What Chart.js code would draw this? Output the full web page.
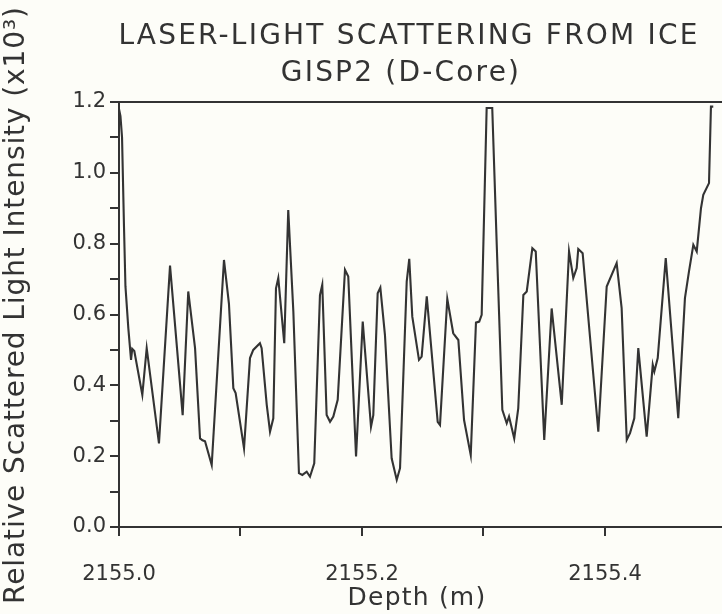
<!DOCTYPE html>
<html>
<head>
<meta charset="utf-8">
<script src="https://cdn.jsdelivr.net/npm/chart.js@4/dist/chart.umd.min.js"></script>
<style>
html,body{margin:0;padding:0;background:#fdfdf8;}
#wrap{width:722px;height:614px;}
</style>
</head>
<body>
<div id="wrap"><canvas id="c" width="722" height="614"></canvas></div>
<script>
// Depth (m) and relative scattered light intensity (x10^3)
const depth = [
2155.0000,2155.0012,2155.0025,2155.0041,2155.0053,2155.0077,2155.0099,2155.0109,2155.0126,2155.0192,
2155.0228,2155.0329,2155.0420,2155.0524,2155.0570,2155.0626,2155.0667,2155.0687,2155.0708,2155.0763,
2155.0864,2155.0905,2155.0941,2155.0960,2155.1029,2155.1078,2155.1105,2155.1160,2155.1174,2155.1216,
2155.1243,2155.1270,2155.1292,2155.1311,2155.1360,2155.1393,2155.1435,2155.1481,2155.1509,2155.1545,
2155.1572,2155.1607,2155.1654,2155.1673,2155.1709,2155.1737,2155.1764,2155.1800,2155.1860,2155.1887,
2155.1951,2155.2006,2155.2074,2155.2093,2155.2129,2155.2151,2155.2189,2155.2244,2155.2286,2155.2313,
2155.2368,2155.2389,2155.2414,2155.2469,2155.2491,2155.2533,2155.2623,2155.2642,2155.2702,2155.2751,
2155.2793,2155.2840,2155.2895,2155.2938,2155.2965,2155.2985,2155.3026,2155.3072,2155.3109,2155.3155,
2155.3191,2155.3210,2155.3253,2155.3286,2155.3328,2155.3356,2155.3402,2155.3430,2155.3500,2155.3561,
2155.3644,2155.3704,2155.3739,2155.3767,2155.3780,2155.3816,2155.3945,2155.4014,2155.4096,2155.4137,
2155.4179,2155.4206,2155.4241,2155.4274,2155.4343,2155.4393,2155.4406,2155.4434,2155.4500,2155.4603,
2155.4658,2155.4691,2155.4727,2155.4755,2155.4790,2155.4809,2155.4856,2155.4872,2155.4891
];
const intensity = [
1.180,1.160,1.100,0.850,0.680,0.560,0.472,0.503,0.497,0.373,
0.505,0.236,0.738,0.316,0.665,0.505,0.250,0.245,0.242,0.175,
0.754,0.630,0.392,0.378,0.222,0.477,0.500,0.519,0.505,0.345,
0.269,0.307,0.674,0.703,0.519,0.895,0.608,0.152,0.147,0.156,
0.142,0.180,0.655,0.684,0.316,0.297,0.312,0.359,0.726,0.707,
0.199,0.580,0.283,0.316,0.660,0.676,0.542,0.194,0.133,0.166,
0.693,0.757,0.594,0.472,0.481,0.651,0.297,0.288,0.644,0.547,
0.528,0.302,0.203,0.577,0.580,0.599,1.183,1.183,0.797,0.331,
0.293,0.312,0.250,0.335,0.655,0.665,0.787,0.778,0.246,0.617,
0.345,0.778,0.703,0.731,0.785,0.773,0.269,0.679,0.745,0.618,
0.246,0.265,0.307,0.505,0.255,0.458,0.439,0.477,0.759,0.307,
0.646,0.721,0.797,0.778,0.900,0.938,0.971,1.187,1.187
];
const xTickValues = [2155.0,2155.1,2155.2,2155.3,2155.4];
const xTickLabels = ['2155.0','','2155.2','','2155.4'];
const yTickValues = [0,0.1,0.2,0.3,0.4,0.5,0.6,0.7,0.8,0.9,1.0,1.1,1.2];
const yTickLabels = ['0.0','','0.2','','0.4','','0.6','','0.8','','1.0','','1.2'];
const titleLines = ['LASER-LIGHT SCATTERING FROM ICE','GISP2 (D-Core)'];
const xTitle = 'Depth (m)';
const yTitle = 'Relative Scattered Light Intensity (x10³)';

const INK = '#333333';
const FONT = "'DejaVu Sans', sans-serif";

const points = depth.map((d,i)=>({x:d,y:intensity[i]}));

function spaced(c, px){ if (c.letterSpacing!==undefined) c.letterSpacing = px+'px'; }

const framePlugin = {
  id:'frame',
  beforeDraw(chart){
    const c=chart.ctx; c.save(); c.fillStyle='#fdfdf8'; c.fillRect(0,0,chart.width,chart.height); c.restore();
  },
  afterDraw(chart){
    const a=chart.chartArea, c=chart.ctx;
    c.save();
    c.strokeStyle=INK; c.lineWidth=2;
    c.beginPath(); c.moveTo(a.left,a.top); c.lineTo(a.right,a.top); c.stroke();
    c.fillStyle=INK; c.textAlign='center'; c.textBaseline='alphabetic';
    // chart title
    c.font = "28px "+FONT;
    spaced(c,2.2);
    c.fillText(titleLines[0], 409, 44);
    c.fillText(titleLines[1], 401, 81);
    // x axis title
    c.font = "25px "+FONT;
    spaced(c,1.2);
    c.textBaseline='middle';
    c.fillText(xTitle, 417, 598);
    // y axis title
    c.font = "28px "+FONT;
    c.translate(17, 305);
    c.rotate(-Math.PI/2);
    spaced(c,0.9);
    c.fillText(yTitle, 0, 0);
    c.restore();
  }
};

new Chart(document.getElementById('c'),{
  type:'line',
  data:{datasets:[{data:points,borderColor:INK,borderWidth:2.1,pointRadius:0,tension:0,fill:false}]},
  plugins:[framePlugin],
  options:{
    responsive:false,animation:false,
    layout:{padding:{top:102,right:0,bottom:0,left:0}},
    plugins:{legend:{display:false},tooltip:{enabled:false},title:{display:false}},
    scales:{
      x:{type:'linear',min:2155.0,max:2155.4963,
        afterBuildTicks:s=>{s.ticks=xTickValues.map(v=>({value:v}));},
        afterFit:s=>{s.height=87;},
        ticks:{callback:(v,i)=>xTickLabels[i],color:INK,font:{family:FONT,size:21},padding:26,maxRotation:0,autoSkip:false},
        grid:{drawOnChartArea:false,drawTicks:true,tickLength:9,color:INK,lineWidth:2},
        border:{display:true,color:INK,width:2},
        title:{display:false}
      },
      y:{type:'linear',min:0,max:1.2,
        afterBuildTicks:s=>{s.ticks=yTickValues.map(v=>({value:v}));},
        afterFit:s=>{s.width=119;},
        ticks:{callback:(v,i)=>yTickLabels[i],color:INK,font:{family:FONT,size:21},padding:4,autoSkip:false},
        grid:{drawOnChartArea:false,drawTicks:true,tickLength:9,color:INK,lineWidth:2},
        border:{display:true,color:INK,width:2},
        title:{display:false}
      }
    }
  }
});
</script>
</body>
</html>
